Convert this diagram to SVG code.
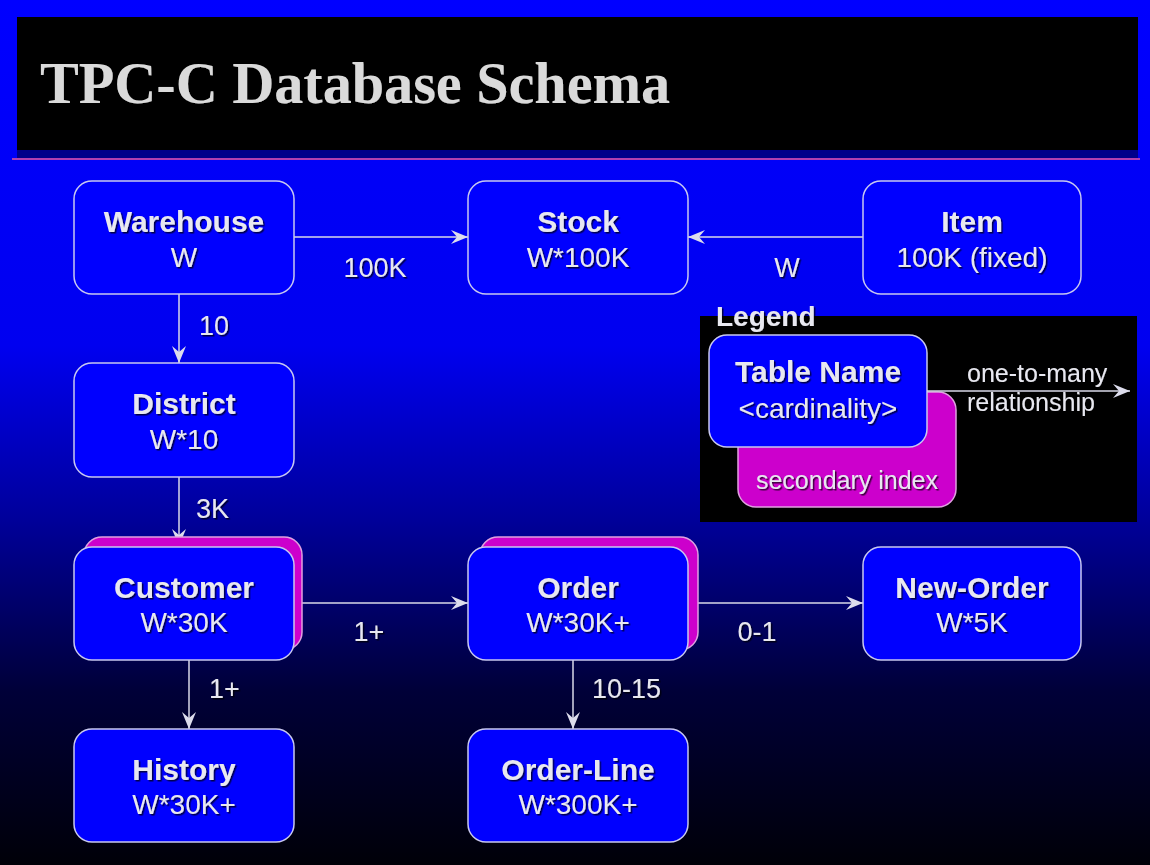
<svg xmlns="http://www.w3.org/2000/svg" width="1150" height="865" viewBox="0 0 1150 865">
  <defs>
    <linearGradient id="bg" x1="0" y1="0" x2="0" y2="1">
      <stop offset="0" stop-color="#0000ff"/>
      <stop offset="0.40" stop-color="#0000f0"/>
      <stop offset="0.60" stop-color="#00009a"/>
      <stop offset="0.80" stop-color="#000038"/>
      <stop offset="1" stop-color="#000008"/>
    </linearGradient>
    <filter id="sh" x="-10%" y="-30%" width="120%" height="160%">
      <feDropShadow dx="1.5" dy="1.5" stdDeviation="0.6" flood-color="#000000" flood-opacity="0.7"/>
    </filter>
    <marker id="arr" markerUnits="userSpaceOnUse" markerWidth="18" markerHeight="14" refX="17" refY="7" orient="auto">
      <path d="M0,0 L17,7 L0,14 L6,7 Z" fill="#dcdcec"/>
    </marker>
  </defs>
  <style>
    .box { fill: #0000ff; stroke: #c8c8f0; stroke-width: 1.5; }
    .idx { fill: #cc00cc; stroke: #e0a0e0; stroke-width: 1.5; }
    .t1 { font-family: "Liberation Sans", Arial, sans-serif; font-weight: bold; font-size: 30px; fill: #e8e8f0; text-anchor: middle; filter: url(#sh); }
    .t2 { font-family: "Liberation Sans", Arial, sans-serif; font-size: 28px; fill: #e8e8f0; text-anchor: middle; filter: url(#sh); }
    .lbl { font-family: "Liberation Sans", Arial, sans-serif; font-size: 27px; fill: #e8e8f0; filter: url(#sh); }
    .sm { font-family: "Liberation Sans", Arial, sans-serif; font-size: 25px; fill: #e8e8f0; filter: url(#sh); }
    .edge { stroke: #d8d8e8; stroke-width: 1.5; fill: none; marker-end: url(#arr); }
  </style>

  <rect x="0" y="0" width="1150" height="865" fill="url(#bg)"/>

  <g id="title">
    <rect x="17" y="17" width="1121" height="133" fill="#000000"/>
    <rect x="17" y="150" width="1121" height="8" fill="#00008a"/>
    <line x1="12" y1="159" x2="1140" y2="159" stroke="#b040b0" stroke-width="2"/>
    <text x="40" y="103" font-family="'Liberation Serif', 'Times New Roman', serif" font-weight="bold" font-size="60" fill="#dadada" filter="url(#sh)" textLength="630" lengthAdjust="spacingAndGlyphs">TPC-C Database Schema</text>
  </g>

  <g id="connectors">
    <line class="edge" x1="294" y1="237" x2="468" y2="237"/>
    <line class="edge" x1="863" y1="237" x2="688" y2="237"/>
    <line class="edge" x1="179" y1="294" x2="179" y2="363"/>
    <line class="edge" x1="179" y1="477" x2="179" y2="546"/>
    <line class="edge" x1="302" y1="603" x2="468" y2="603"/>
    <line class="edge" x1="698" y1="603" x2="863" y2="603"/>
    <line class="edge" x1="189" y1="660" x2="189" y2="729"/>
    <line class="edge" x1="573" y1="660" x2="573" y2="729"/>
    <text class="lbl" x="375" y="277" text-anchor="middle">100K</text>
    <text class="lbl" x="787" y="277" text-anchor="middle">W</text>
    <text class="lbl" x="199" y="335">10</text>
    <text class="lbl" x="196" y="518">3K</text>
    <text class="lbl" x="369" y="641" text-anchor="middle">1+</text>
    <text class="lbl" x="757" y="641" text-anchor="middle">0-1</text>
    <text class="lbl" x="209" y="698">1+</text>
    <text class="lbl" x="592" y="698">10-15</text>
  </g>

  <g id="warehouse">
    <rect class="box" x="74" y="181" width="220" height="113" rx="18"/>
    <text class="t1" x="184" y="232">Warehouse</text>
    <text class="t2" x="184" y="267">W</text>
  </g>
  <g id="stock">
    <rect class="box" x="468" y="181" width="220" height="113" rx="18"/>
    <text class="t1" x="578" y="232">Stock</text>
    <text class="t2" x="578" y="267">W*100K</text>
  </g>
  <g id="item">
    <rect class="box" x="863" y="181" width="218" height="113" rx="18"/>
    <text class="t1" x="972" y="232">Item</text>
    <text class="t2" x="972" y="267">100K (fixed)</text>
  </g>
  <g id="district">
    <rect class="box" x="74" y="363" width="220" height="114" rx="18"/>
    <text class="t1" x="184" y="414">District</text>
    <text class="t2" x="184" y="449">W*10</text>
  </g>
  <g id="customer">
    <rect class="idx" x="84" y="537" width="218" height="113" rx="18"/>
    <rect class="box" x="74" y="547" width="220" height="113" rx="18"/>
    <text class="t1" x="184" y="598">Customer</text>
    <text class="t2" x="184" y="632">W*30K</text>
  </g>
  <g id="order">
    <rect class="idx" x="480" y="537" width="218" height="113" rx="18"/>
    <rect class="box" x="468" y="547" width="220" height="113" rx="18"/>
    <text class="t1" x="578" y="598">Order</text>
    <text class="t2" x="578" y="632">W*30K+</text>
  </g>
  <g id="new-order">
    <rect class="box" x="863" y="547" width="218" height="113" rx="18"/>
    <text class="t1" x="972" y="598">New-Order</text>
    <text class="t2" x="972" y="632">W*5K</text>
  </g>
  <g id="history">
    <rect class="box" x="74" y="729" width="220" height="113" rx="18"/>
    <text class="t1" x="184" y="780">History</text>
    <text class="t2" x="184" y="814">W*30K+</text>
  </g>
  <g id="order-line">
    <rect class="box" x="468" y="729" width="220" height="113" rx="18"/>
    <text class="t1" x="578" y="780">Order-Line</text>
    <text class="t2" x="578" y="814">W*300K+</text>
  </g>

  <g id="legend">
    <rect x="700" y="316" width="437" height="206" fill="#000000"/>
    <text x="716" y="326" font-family="'Liberation Sans', Arial, sans-serif" font-weight="bold" font-size="28" fill="#e8e8f0" filter="url(#sh)">Legend</text>
    <rect class="idx" x="738" y="392" width="218" height="115" rx="18"/>
    <rect class="box" x="709" y="335" width="218" height="112" rx="18"/>
    <text class="t1" x="818" y="382">Table Name</text>
    <text class="t2" x="818" y="418">&lt;cardinality&gt;</text>
    <text class="sm" x="847" y="489" text-anchor="middle">secondary index</text>
    <line class="edge" x1="927" y1="391" x2="1130" y2="391"/>
    <text class="sm" x="967" y="382">one-to-many</text>
    <text class="sm" x="967" y="411">relationship</text>
  </g>
</svg>
